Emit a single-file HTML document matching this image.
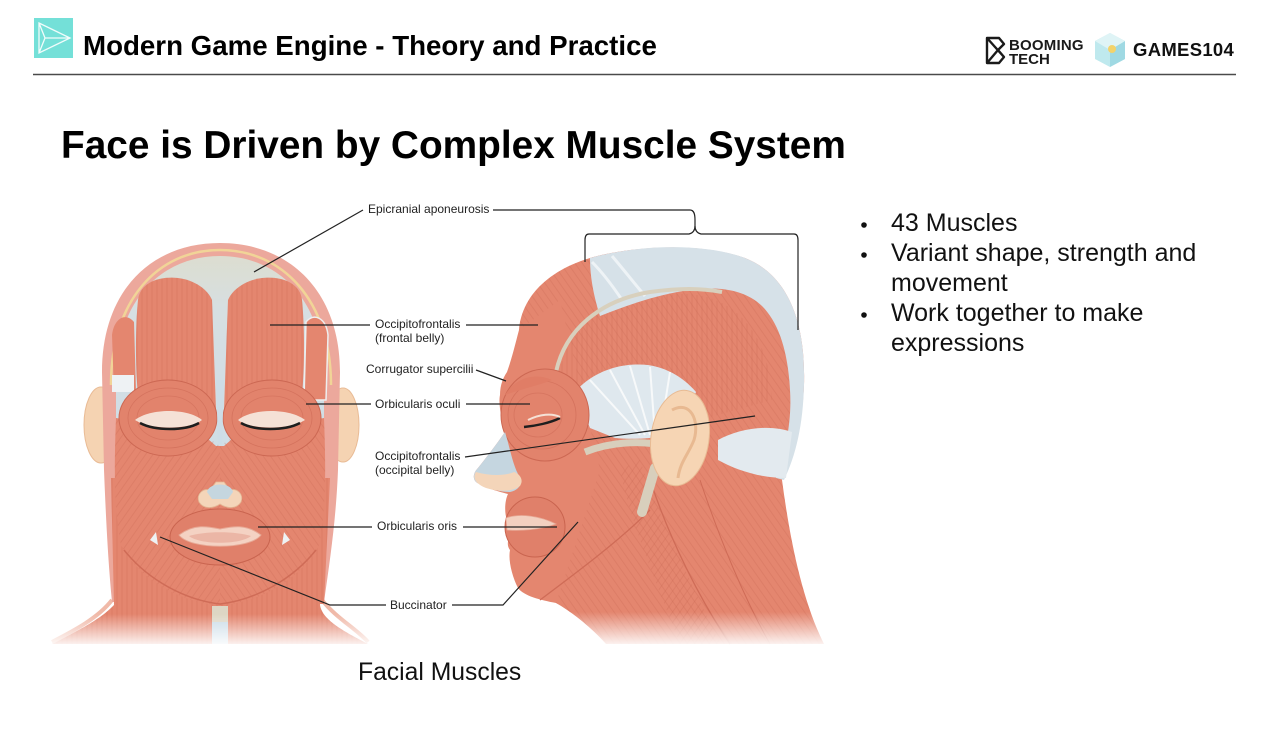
<!DOCTYPE html>
<html><head><meta charset="utf-8">
<style>
html,body{margin:0;padding:0;background:#fff;}
body{width:1280px;height:741px;overflow:hidden;position:relative;font-family:"Liberation Sans",Arial,sans-serif;}
svg{position:absolute;left:0;top:0;}
</style></head>
<body>
<svg width="1280" height="741" viewBox="0 0 1280 741" xmlns="http://www.w3.org/2000/svg" font-family="Liberation Sans, Arial, sans-serif">
<defs>
  <linearGradient id="fadeW" x1="0" y1="0" x2="0" y2="1">
    <stop offset="0" stop-color="#fff" stop-opacity="0"/>
    <stop offset="1" stop-color="#fff" stop-opacity="1"/>
  </linearGradient>
  <linearGradient id="skull" x1="0" y1="0" x2="0" y2="1">
    <stop offset="0" stop-color="#dcddd0"/>
    <stop offset="0.25" stop-color="#d6dfe2"/>
    <stop offset="1" stop-color="#cddde7"/>
  </linearGradient>
  <pattern id="fibV" width="5" height="40" patternUnits="userSpaceOnUse">
    <line x1="2" y1="0" x2="2" y2="40" stroke="#c8664f" stroke-width="0.7" stroke-opacity="0.45"/>
  </pattern>
  <pattern id="fibD" width="6" height="40" patternUnits="userSpaceOnUse" patternTransform="rotate(35)">
    <line x1="2" y1="0" x2="2" y2="40" stroke="#c8664f" stroke-width="0.7" stroke-opacity="0.4"/>
  </pattern>
  <pattern id="fibD2" width="6" height="40" patternUnits="userSpaceOnUse" patternTransform="rotate(-35)">
    <line x1="2" y1="0" x2="2" y2="40" stroke="#c8664f" stroke-width="0.7" stroke-opacity="0.4"/>
  </pattern>
</defs>

<!-- Header -->
<rect x="34" y="18" width="39" height="40" fill="#74e0d8"/>
<path d="M39 23 L70 38 L39 53 Z M39 23 L45 38 L39 53 M45 38 L70 38" fill="none" stroke="#fff" stroke-width="1.3" stroke-opacity="0.9"/>
<text x="83" y="55" font-size="27.7" font-weight="bold" fill="#000">Modern Game Engine - Theory and Practice</text>
<line x1="33" y1="74.5" x2="1236" y2="74.5" stroke="#4a4a4a" stroke-width="1.5"/>

<!-- Logos -->
<path d="M987 38 L999 38 L1004 44 L998 50 L1004 57 L999 63 L987 63 Z M987 38 L1004 57 M987 63 L998 50" fill="none" stroke="#1a1a1a" stroke-width="2.4" stroke-linejoin="round"/>
<text x="1009" y="50" font-size="15" font-weight="bold" fill="#1a1a1a" letter-spacing="0.2">BOOMING</text>
<text x="1009" y="64" font-size="15" font-weight="bold" fill="#1a1a1a">TECH</text>
<path d="M1110 33 L1125 41 L1125 59 L1110 67 L1095 59 L1095 41 Z" fill="#bfe9ee"/>
<path d="M1110 50 L1125 41 L1125 59 L1110 67 Z" fill="#9fd9e3"/>
<path d="M1095 41 L1110 33 L1125 41 L1110 50 Z" fill="#dff4f6"/>
<circle cx="1112" cy="49" r="4" fill="#f3d36b"/>
<text x="1133" y="56" font-size="18.5" font-weight="bold" fill="#111" letter-spacing="0.3">GAMES104</text>

<!-- Title -->
<text x="61" y="158" font-size="38.8" font-weight="bold" fill="#000">Face is Driven by Complex Muscle System</text>

<!-- Bullets -->
<g font-size="25" fill="#111">
  <circle cx="864" cy="225" r="2.8" fill="#111"/>
  <text x="891" y="231">43 Muscles</text>
  <circle cx="864" cy="255" r="2.8" fill="#111"/>
  <text x="891" y="261">Variant shape, strength and</text>
  <text x="891" y="291">movement</text>
  <circle cx="864" cy="315" r="2.8" fill="#111"/>
  <text x="891" y="321">Work together to make</text>
  <text x="891" y="351">expressions</text>
</g>

<!-- ================= FRONT HEAD ================= -->
<!-- neck base -->
<path d="M116 560 L114 605 C100 620 75 632 52 644 L368 644 C345 632 322 620 320 605 L322 560 Z" fill="#e4866f"/>
<path d="M116 560 L114 605 C100 620 75 632 52 644 L368 644 C345 632 322 620 320 605 L322 560 Z" fill="url(#fibV)"/>
<path d="M112 600 C98 618 75 630 52 642" stroke="#f0b9a8" stroke-width="4" fill="none"/>
<path d="M322 600 C336 618 358 630 368 642" stroke="#f0b9a8" stroke-width="4" fill="none"/>
<!-- ears -->
<ellipse cx="101" cy="425" rx="17" ry="38" fill="#f5d3b2" stroke="#e9bb95" stroke-width="1"/>
<ellipse cx="343" cy="425" rx="16" ry="37" fill="#f5d3b2" stroke="#e9bb95" stroke-width="1"/>
<!-- outer head -->
<path d="M220 243 C150 243 102 292 102 372 L104 470 C106 520 108 560 112 602 L324 602 C330 560 336 520 338 470 L340 372 C340 292 290 243 220 243 Z" fill="#eca89c"/>
<path d="M111 385 C111 300 158 250 220 250 C282 250 331 300 331 385" stroke="#f1d497" stroke-width="2.5" fill="none"/>
<path d="M220 256 C162 256 116 300 116 378 L116 480 L324 480 L324 378 C324 300 278 256 220 256 Z" fill="url(#skull)"/>
<!-- neck muscles behind jaw -->
<path d="M111 478 L330 478 L324 604 L114 604 Z" fill="#e4866f"/>
<path d="M111 478 L330 478 L324 604 L114 604 Z" fill="url(#fibV)"/>
<!-- frontal bellies -->
<path d="M138 300 C140 282 160 276 178 278 C195 280 208 290 212 300 L216 410 L140 410 C135 380 135 330 138 300 Z" fill="#e4866f"/>
<path d="M302 300 C300 282 280 276 262 278 C245 280 232 290 228 300 L224 410 L300 410 C305 380 305 330 302 300 Z" fill="#e4866f"/>
<path d="M138 300 C140 282 160 276 178 278 C195 280 208 290 212 300 L216 410 L140 410 C135 380 135 330 138 300 Z" fill="url(#fibV)"/>
<path d="M302 300 C300 282 280 276 262 278 C245 280 232 290 228 300 L224 410 L300 410 C305 380 305 330 302 300 Z" fill="url(#fibV)"/>
<!-- side temporal pieces -->
<path d="M112 335 C114 318 126 312 134 322 L136 392 L114 392 Z" fill="#e4866f"/>
<path d="M112 375 L134 375 L134 392 L112 392 Z" fill="#eef2f4"/>
<path d="M328 335 C326 318 314 312 306 322 L304 400 L326 400 Z" fill="#e4866f" stroke="#eee" stroke-width="1.5"/>
<!-- lower face -->
<path d="M116 418 C114 470 114 510 121 545 C138 578 180 603 220 605 C260 603 302 578 319 545 C326 510 326 470 324 418 L240 432 L224 446 L216 446 L200 432 Z" fill="#e4866f"/>
<path d="M116 418 C114 470 114 510 121 545 C138 578 180 603 220 605 L220 446 L200 432 Z" fill="url(#fibD)"/>
<path d="M324 418 C326 470 326 510 319 545 C302 578 260 603 220 605 L220 446 L240 432 Z" fill="url(#fibD2)"/>
<path d="M124 550 C148 580 185 600 220 604 C255 600 292 580 316 550" stroke="#cf6c57" stroke-width="1.5" fill="none"/>
<!-- eye rings -->
<ellipse cx="168" cy="418" rx="49" ry="38" fill="#e2836c" stroke="#cc6853" stroke-width="1"/>
<ellipse cx="272" cy="418" rx="49" ry="38" fill="#e2836c" stroke="#cc6853" stroke-width="1"/>
<ellipse cx="168" cy="418" rx="40" ry="30" fill="none" stroke="#cc6853" stroke-width="0.8" stroke-opacity="0.6"/>
<ellipse cx="272" cy="418" rx="40" ry="30" fill="none" stroke="#cc6853" stroke-width="0.8" stroke-opacity="0.6"/>
<ellipse cx="168" cy="418" rx="31" ry="22" fill="none" stroke="#cc6853" stroke-width="0.8" stroke-opacity="0.5"/>
<ellipse cx="272" cy="418" rx="31" ry="22" fill="none" stroke="#cc6853" stroke-width="0.8" stroke-opacity="0.5"/>
<path d="M216 380 L224 380 L222 444 L218 444 Z" fill="#cddde7"/>
<!-- eye openings -->
<path d="M135 420 C150 408 188 408 202 420 C190 430 150 430 135 420 Z" fill="#f5e1d6"/>
<path d="M140 423 C155 431 185 431 199 423" stroke="#1e1e1e" stroke-width="2.6" fill="none"/>
<path d="M305 420 C290 408 252 408 238 420 C250 430 290 430 305 420 Z" fill="#f5e1d6"/>
<path d="M300 423 C285 431 255 431 241 423" stroke="#1e1e1e" stroke-width="2.6" fill="none"/>
<!-- nose -->
<path d="M199 502 C196 494 203 488 210 490 L216 482 L224 482 L230 490 C237 488 244 494 241 502 C236 510 226 508 220 504 C214 508 204 510 199 502 Z" fill="#f4d5b9" stroke="#e3b996" stroke-width="0.8"/>
<path d="M207 492 C209 482 231 482 233 492 L228 499 L212 499 Z" fill="#c5d6df"/>
<!-- mouth -->
<ellipse cx="220" cy="537" rx="50" ry="28" fill="#e0806a" stroke="#c9644f" stroke-width="1"/>
<path d="M179 535 C195 523 210 527 220 529 C230 527 245 523 261 535 C250 550 190 550 179 535 Z" fill="#f4d2c3" stroke="#e7a996" stroke-width="1"/>
<path d="M189 536 C205 531 235 531 251 536 C240 545 200 545 189 536 Z" fill="#ebb6a6"/>
<path d="M150 540 L156 532 L158 545 Z" fill="#eef2f4"/>
<path d="M290 540 L284 532 L282 545 Z" fill="#eef2f4"/>
<!-- trachea -->
<rect x="212" y="606" width="16" height="18" fill="#ddd6c4"/>
<rect x="212" y="622" width="16" height="22" fill="#c9dbe7"/>
<rect x="40" y="614" width="340" height="34" fill="url(#fadeW)"/>

<!-- ================= SIDE HEAD ================= -->
<path d="M519 330 C522 292 556 264 606 254 C650 245 705 244 745 258 C788 275 806 322 804 385 C802 428 794 458 782 480 C790 540 802 600 824 644 L606 644 C592 628 572 612 556 603 C540 600 524 596 518 588 C512 576 508 560 510 550 C506 545 508 538 512 534 C506 532 505 525 507 520 C504 512 505 500 508 494 C500 492 485 488 476 482 C472 478 474 472 478 468 C486 458 496 445 505 432 C502 420 498 405 500 395 C500 385 503 378 507 372 C512 358 515 345 519 330 Z" fill="#e4866f"/>
<path d="M519 330 C522 292 556 264 606 254 C650 245 705 244 745 258 C788 275 806 322 804 385 C802 428 794 458 782 480 C790 540 802 600 824 644 L606 644 C592 628 572 612 556 603 L600 470 L560 300 Z" fill="url(#fibD2)"/>
<path d="M640 460 C660 520 690 580 720 644 L680 644 C655 580 630 520 620 470 Z" fill="url(#fibD)"/>
<path d="M540 600 C580 570 620 540 650 510" stroke="#cf6c57" stroke-width="1.3" fill="none"/>
<path d="M650 480 C670 540 700 600 730 644" stroke="#cf6c57" stroke-width="1.3" fill="none"/>
<path d="M700 480 C720 540 745 600 770 644" stroke="#cf6c57" stroke-width="1" fill="none"/>
<!-- temporalis area fibers -->
<path d="M560 370 C570 320 610 298 680 294 C730 292 770 330 772 400 L700 420 L600 420 Z" fill="url(#fibV)"/>
<!-- aponeurosis band -->
<path d="M590 258 C640 244 705 243 745 258 C788 275 806 322 804 385 C803 425 796 455 784 480 L776 478 C786 450 792 420 790 390 C788 350 778 322 762 306 C745 290 720 286 690 290 C660 294 630 304 600 316 C595 300 590 280 590 258 Z" fill="#d6e1e8"/>
<path d="M592 262 C602 272 612 285 622 300 M612 256 C624 270 634 283 645 296" stroke="#eef3f6" stroke-width="3" fill="none"/>
<path d="M556 372 C565 330 600 300 650 292 C680 288 700 288 722 292" stroke="#d8d0bd" stroke-width="4" fill="none"/>
<!-- white tendon fan -->
<path d="M575 392 C592 372 620 362 648 365 C668 368 684 378 696 392 L680 432 C660 438 640 440 615 438 L590 428 Z" fill="#dfe8ee"/>
<path d="M590 380 L640 435 M610 370 L645 435 M630 366 L650 435 M650 367 L655 435 M670 372 L660 435" stroke="#f7f9fa" stroke-width="2" fill="none"/>
<path d="M718 440 C740 428 770 424 792 432 L786 478 C760 478 736 470 718 460 Z" fill="#e3eaef"/>
<!-- arch & ramus -->
<path d="M585 452 C610 442 640 440 668 446" stroke="#d8cfbc" stroke-width="7" fill="none"/>
<path d="M655 468 L642 512" stroke="#d8cfbc" stroke-width="10" stroke-linecap="round" fill="none"/>
<!-- ear -->
<ellipse cx="680" cy="438" rx="29" ry="48" transform="rotate(8 680 438)" fill="#f6d5b4" stroke="#e8bb94" stroke-width="1"/>
<path d="M672 410 C690 400 700 420 694 440 C688 455 680 462 678 478" stroke="#e8b991" stroke-width="3" fill="none"/>
<!-- eye -->
<ellipse cx="545" cy="415" rx="44" ry="46" fill="#e2836c" stroke="#cc6853" stroke-width="1"/>
<ellipse cx="542" cy="415" rx="34" ry="34" fill="none" stroke="#cc6853" stroke-width="0.8" stroke-opacity="0.6"/>
<ellipse cx="538" cy="415" rx="24" ry="22" fill="none" stroke="#cc6853" stroke-width="0.8" stroke-opacity="0.5"/>
<path d="M505 395 C515 378 535 372 552 380 C540 385 525 388 505 395 Z" fill="#e07d66"/>
<path d="M524 427 C535 426 550 423 560 418" stroke="#1e1e1e" stroke-width="2.4" fill="none"/>
<path d="M528 420 C540 414 552 413 560 417" stroke="#f5e1d6" stroke-width="2" fill="none"/>
<!-- nose -->
<path d="M505 432 C496 445 486 458 478 468 C474 472 472 478 476 482 C485 488 500 492 510 492 C520 490 524 482 518 474 C512 462 510 448 505 432 Z" fill="#c5d6e0"/>
<path d="M476 472 C472 478 476 484 486 488 C500 492 512 492 520 486 C524 480 520 474 514 472 C505 476 490 476 476 472 Z" fill="#f4d5b9"/>
<!-- mouth -->
<ellipse cx="535" cy="527" rx="30" ry="30" fill="#e0806a" stroke="#c9644f" stroke-width="1"/>
<path d="M506 518 C520 513 540 516 556 524 C540 530 520 531 507 530 Z" fill="#f3d0c0" stroke="#e7a996" stroke-width="0.8"/>
<rect x="470" y="612" width="370" height="36" fill="url(#fadeW)"/>

<!-- ================= LABEL LINES ================= -->
<g stroke="#222" stroke-width="1.2" fill="none">
  <path d="M363 210 L254 272"/>
  <path d="M493 210 L690 210 C694 210 695 214 695 220 L695 226 C695 230 697 233 701 234 L794 234 C797 234 798 237 798 240 L798 330"/>
  <path d="M695 226 C695 230 693 233 689 234 L589 234 C586 234 585 237 585 240 L585 262"/>
  <path d="M270 325 L370 325"/>
  <path d="M466 325 L538 325"/>
  <path d="M476 370 L506 381"/>
  <path d="M306 404 L371 404"/>
  <path d="M466 404 L530 404"/>
  <path d="M465 457 L755 416"/>
  <path d="M258 527 L372 527"/>
  <path d="M463 527 L557 527"/>
  <path d="M160 537 L330 605 L386 605"/>
  <path d="M452 605 L503 605 L578 522"/>
</g>

<!-- ================= LABEL TEXT ================= -->
<g font-size="12" fill="#222">
  <text x="368" y="213">Epicranial aponeurosis</text>
  <text x="375" y="328">Occipitofrontalis</text>
  <text x="375" y="342">(frontal belly)</text>
  <text x="366" y="373">Corrugator supercilii</text>
  <text x="375" y="408">Orbicularis oculi</text>
  <text x="375" y="460">Occipitofrontalis</text>
  <text x="375" y="474">(occipital belly)</text>
  <text x="377" y="530">Orbicularis oris</text>
  <text x="390" y="609">Buccinator</text>
</g>

<text x="358" y="680" font-size="24.7" fill="#111">Facial Muscles</text>
</svg>
</body></html>
